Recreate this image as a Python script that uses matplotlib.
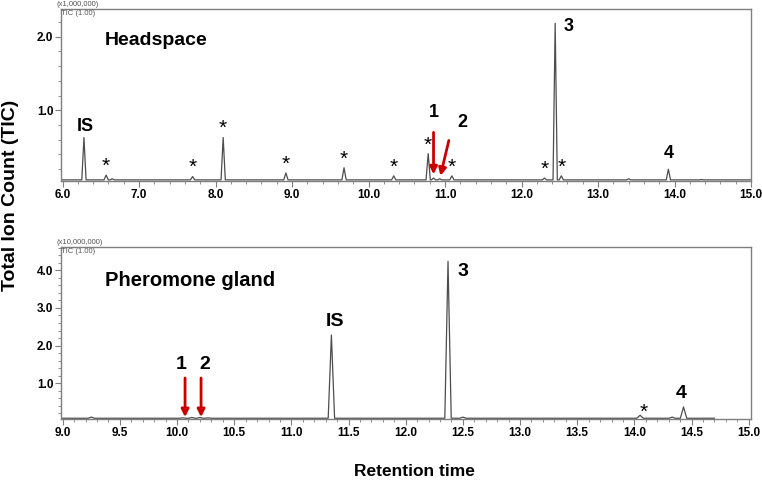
import matplotlib
matplotlib.use("Agg")
import matplotlib.pyplot as plt
from matplotlib.ticker import MultipleLocator, FixedLocator, FormatStrFormatter

plt.rcParams['font.family'] = ['Liberation Sans', 'DejaVu Sans']
plt.rcParams['font.weight'] = 'bold'

# Headspace chromatogram: peak retention times (min) and apex heights (x1,000,000)
hs_rt = [6.28, 6.57, 6.65, 7.70, 8.10, 8.92, 9.68, 10.33, 10.78, 10.85, 10.93,
         11.09, 12.30, 12.44, 12.52, 13.40, 13.92, 14.35]
hs_height = [0.63, 0.12, 0.07, 0.10, 0.63, 0.15, 0.22, 0.11, 0.41, 0.08, 0.07,
             0.11, 0.08, 2.18, 0.11, 0.07, 0.20, 0.06]
hs_baseline = 0.055
hs_star_rt = [6.57, 7.70, 8.10, 8.92, 9.68, 10.33, 10.78, 11.09, 12.30, 12.52]

# Pheromone gland chromatogram (x10,000,000)
pg_rt = [9.25, 10.05, 10.13, 10.20, 10.27, 11.35, 12.37, 12.50, 14.05, 14.33, 14.43]
pg_height = [0.10, 0.08, 0.09, 0.09, 0.08, 2.28, 4.24, 0.10, 0.15, 0.10, 0.37]
pg_baseline = 0.07
pg_star_rt = [14.05]

hs_xticks = [6.0, 7.0, 8.0, 9.0, 10.0, 11.0, 12.0, 13.0, 14.0, 15.0]
pg_xticks = [9.0, 9.5, 10.0, 10.5, 11.0, 11.5, 12.0, 12.5, 13.0, 13.5, 14.0, 14.5, 15.0]

GRAY = '#7f7f7f'
TRACE = '#4d4d4d'
RED = '#c80000'


def build_trace(rts, heights, base, start, end, half_width=0.028):
    xs, ys = [start], [base]
    for rt, h in zip(rts, heights):
        xs += [rt - half_width, rt, rt + half_width]
        ys += [base, h, base]
    xs.append(end)
    ys.append(base)
    return xs, ys


def style_axes(ax, xlim, ylim, xticks, xminor, yticks, scale_text):
    ax.set_xlim(*xlim)
    ax.set_ylim(*ylim)
    ax.xaxis.set_major_locator(FixedLocator(xticks))
    ax.xaxis.set_minor_locator(MultipleLocator(xminor))
    ax.yaxis.set_major_locator(FixedLocator(yticks))
    ax.yaxis.set_minor_locator(MultipleLocator(0.2))
    ax.xaxis.set_major_formatter(FormatStrFormatter('%.1f'))
    ax.yaxis.set_major_formatter(FormatStrFormatter('%.1f'))
    for sp in ax.spines.values():
        sp.set_color(GRAY)
        sp.set_linewidth(1.0)
    ax.tick_params(which='major', direction='out', length=4, width=0.8, color=GRAY,
                   labelsize=8.5, pad=1.5)
    ax.tick_params(which='minor', direction='out', length=2, width=0.6, color=GRAY)
    ax.text(-0.006, 1.005, scale_text, transform=ax.transAxes, fontsize=5.5,
            fontweight='normal', color='#555555', ha='left', va='bottom')
    ax.text(0.0, 0.995, 'TIC (1.00)', transform=ax.transAxes, fontsize=5.5,
            fontweight='normal', color='#555555', ha='left', va='top')


def red_arrow(ax, tail, head):
    ax.annotate('', xy=head, xytext=tail,
                arrowprops=dict(arrowstyle='-|>', color=RED, lw=2,
                                mutation_scale=11, shrinkA=0, shrinkB=0))


fig = plt.figure(figsize=(7.62, 4.84), dpi=100)
ax1 = fig.add_axes([61 / 762, 1 - 181 / 484, 690 / 762, 172 / 484])
ax2 = fig.add_axes([61 / 762, 1 - 419 / 484, 690 / 762, 172 / 484])

# ---- Headspace ----
x, y = build_trace(hs_rt, hs_height, hs_baseline, 5.98, 15.0)
ax1.plot(x, y, color=TRACE, lw=0.9)
style_axes(ax1, (5.98, 15.0), (0.04, 2.375), hs_xticks, 0.2, [1.0, 2.0], '(x1,000,000)')

hs_h = dict(zip(hs_rt, hs_height))
for rt in hs_star_rt:
    ax1.text(rt, hs_h[rt] + 0.12, '*', fontsize=15, fontweight='normal',
             ha='center', va='center')
ax1.text(6.30, 0.78, 'IS', fontsize=13, ha='center', va='center')
ax1.text(12.62, 2.14, '3', fontsize=13, ha='center', va='center')
ax1.text(13.92, 0.42, '4', fontsize=13, ha='center', va='center')
ax1.text(10.85, 0.97, '1', fontsize=13, ha='center', va='center')
ax1.text(11.23, 0.83, '2', fontsize=13, ha='center', va='center')
red_arrow(ax1, (10.85, 0.70), (10.85, 0.13))
red_arrow(ax1, (11.05, 0.59), (10.94, 0.11))
ax1.text(6.55, 1.95, 'Headspace', fontsize=14, ha='left', va='center')

# ---- Pheromone gland ----
x, y = build_trace(pg_rt, pg_height, pg_baseline, 9.0, 14.70)
ax2.plot(x, y, color=TRACE, lw=0.9)
style_axes(ax2, (8.985, 15.02), (0.05, 4.62), pg_xticks, 0.1, [1.0, 2.0, 3.0, 4.0],
           '(x10,000,000)')

pg_h = dict(zip(pg_rt, pg_height))
for rt in pg_star_rt:
    ax2.text(rt + 0.03, pg_h[rt] + 0.08, '*', fontsize=15, fontweight='normal',
             ha='center', va='center')
ax2.text(11.38, 2.65, 'IS', fontsize=14, ha='center', va='center')
ax2.text(12.50, 3.98, '3', fontsize=14, ha='center', va='center')
ax2.text(14.41, 0.74, '4', fontsize=14, ha='center', va='center')
ax2.text(10.04, 1.50, '1', fontsize=14, ha='center', va='center')
ax2.text(10.24, 1.50, '2', fontsize=14, ha='center', va='center')
red_arrow(ax2, (10.07, 1.14), (10.07, 0.10))
red_arrow(ax2, (10.21, 1.14), (10.21, 0.10))
ax2.text(9.37, 3.72, 'Pheromone gland', fontsize=14.5, ha='left', va='center')

fig.text(11 / 762, 1 - 195 / 484, 'Total Ion Count (TIC)', rotation=90, fontsize=14,
         ha='center', va='center')
fig.text(414 / 762, 1 - 472 / 484, 'Retention time', fontsize=12.5,
         ha='center', va='center')

fig.savefig('out.png', dpi=100)
